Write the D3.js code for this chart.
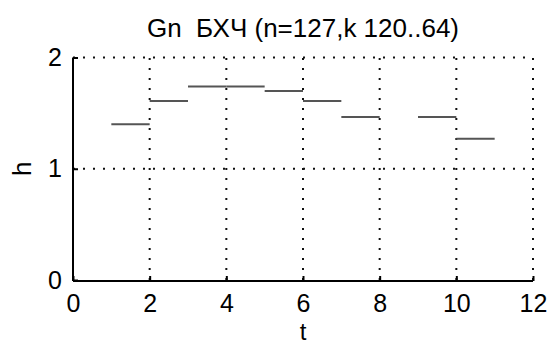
<!DOCTYPE html>
<html>
<head>
<meta charset="utf-8">
<script src="https://cdn.jsdelivr.net/npm/d3@7"></script>
<style>
  html, body { margin: 0; padding: 0; background: #fff; }
  svg text { font-family: "Liberation Sans", Arial, sans-serif; fill: #000; }
</style>
</head>
<body>
<svg id="chart" width="549" height="345"></svg>
<script>
// Data
const title = "Gn\u00a0 БХЧ (n=127,k 120..64)";
const xLabel = "t";
const yLabel = "h";
const stepStarts = [1, 2, 3, 4, 5, 6, 7, 8, 9, 10];
const stepValues = [1.40, 1.61, 1.74, 1.74, 1.70, 1.61, 1.465, null, 1.465, 1.27];
const xTicks = [0, 2, 4, 6, 8, 10, 12];
const yTicks = [0, 1, 2];

const svg = d3.select("#chart");
const x = d3.scaleLinear().domain([0, 12]).range([73, 533]);
const y = d3.scaleLinear().domain([0, 2]).range([280, 57.5]);
const fs = 26, tfs = 25, lfs = 24;

// Grid (dotted)
const grid = svg.append("g");
grid.selectAll("line.gx").data(xTicks.filter(d => d > 0)).enter().append("line")
  .attr("x1", d => x(d)).attr("x2", d => x(d))
  .attr("y1", y(0)).attr("y2", y(2))
  .attr("stroke", "#111").attr("stroke-width", 2).attr("stroke-dasharray", "2 8");
grid.selectAll("line.gy").data(yTicks.filter(d => d > 0)).enter().append("line")
  .attr("x1", x(0)).attr("x2", x(12))
  .attr("y1", d => y(d)).attr("y2", d => y(d))
  .attr("stroke", "#111").attr("stroke-width", 2).attr("stroke-dasharray", "2 8");

// Axes
const xAxis = d3.axisBottom(x).tickValues(xTicks).tickSize(-5).tickPadding(13).tickFormat(d3.format("d"));
const gx = svg.append("g").attr("transform", `translate(0,${y(0) + 1})`).call(xAxis);
const yAxis = d3.axisLeft(y).tickValues(yTicks).tickSize(-5).tickPadding(11).tickFormat(d3.format("d"));
const gy = svg.append("g").attr("transform", `translate(${x(0)},0)`).call(yAxis);
[gx, gy].forEach(g => {
  g.select(".domain").attr("stroke", "#000").attr("stroke-width", 2);
  g.selectAll(".tick line").attr("stroke", "#000").attr("stroke-width", 2);
  g.selectAll(".tick text").attr("font-size", tfs).attr("font-family", "Liberation Sans, Arial, sans-serif").attr("fill", "#000");
});
gx.select(".domain").attr("d", `M${x(0)},0H${x(12)}`);
gy.select(".domain").attr("d", `M0,${y(0) + 1}V${y(2)}`);
gx.selectAll(".tick text").attr("y", 31).attr("dy", 0);

// Step segments
const segs = stepStarts.map((s, i) => ({ s, v: stepValues[i] })).filter(d => d.v !== null);
svg.append("g").selectAll("line").data(segs).enter().append("line")
  .attr("x1", d => x(d.s)).attr("x2", d => x(d.s + 1))
  .attr("y1", d => y(d.v)).attr("y2", d => y(d.v))
  .attr("stroke", "#555").attr("stroke-width", 2);

// Title and labels
svg.append("text").attr("x", (x(0) + x(12)) / 2).attr("y", 37)
  .attr("text-anchor", "middle").attr("font-size", fs).text(title);
svg.append("text").attr("x", (x(0) + x(12)) / 2).attr("y", 339.8)
  .attr("text-anchor", "middle").attr("font-size", lfs).text(xLabel);
svg.append("text").attr("transform", `translate(31,${(y(0) + y(2)) / 2}) rotate(-90)`)
  .attr("text-anchor", "middle").attr("font-size", fs).text(yLabel);
</script>
</body>
</html>
